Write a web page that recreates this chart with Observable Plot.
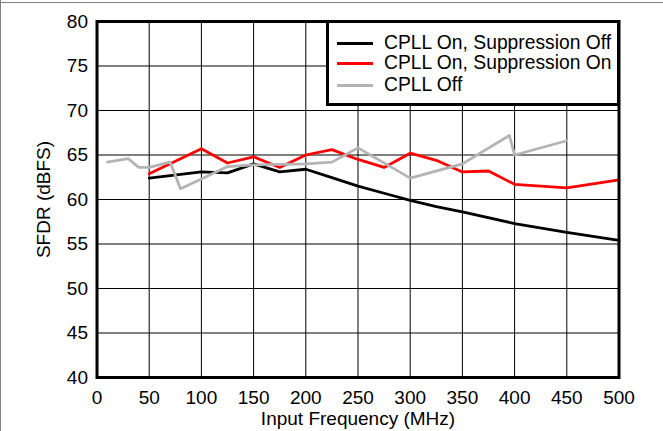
<!DOCTYPE html>
<html>
<head>
<meta charset="utf-8">
<script src="https://cdn.jsdelivr.net/npm/d3@7"></script>
<script src="https://cdn.jsdelivr.net/npm/@observablehq/plot@0.6"></script>
<style>
  html, body { margin: 0; padding: 0; background: white; }
  #wrap { position: relative; width: 663px; height: 431px; overflow: hidden; font-family: "Liberation Sans", Arial, Helvetica, sans-serif; }
  #bt { position: absolute; left: 0; top: 2px; width: 663px; height: 1px; background: #808080; }
  #bl { position: absolute; left: 0; top: 0; width: 1px; height: 431px; background: #808080; }
  #legend { position: absolute; left: 326px; top: 19.5px; width: 288px; height: 80px; border: 3px solid black; background: white; font-size: 19.3px; }
  .row { position: absolute; left: 8px; height: 21px; display: flex; align-items: center; white-space: nowrap; }
  .sw { width: 36px; height: 3px; margin-right: 11px; }
</style>
</head>
<body>
<div id="wrap">
  <div id="chart"></div>
  <div id="legend"></div>
  <div id="bt"></div>
  <div id="bl"></div>
</div>
<script>
// Series names and colours
const seriesNames = ["CPLL On, Suppression Off", "CPLL On, Suppression On", "CPLL Off"];
const seriesColors = ["#000000", "#ff0000", "#b4b4b4"];

// CPLL On, Suppression Off
const freqBlack = [50, 100, 125, 150, 175, 200, 225, 250, 275, 300, 325, 350, 400, 450, 500];
const sfdrBlack = [62.4, 63.1, 63.0, 64.0, 63.1, 63.4, 62.45, 61.5, 60.7, 59.9, 59.2, 58.6, 57.3, 56.3, 55.4];

// CPLL On, Suppression On
const freqRed = [50, 100, 125, 150, 175, 200, 225, 250, 275, 300, 325, 350, 375, 400, 450, 500];
const sfdrRed = [62.9, 65.7, 64.1, 64.8, 63.6, 65.0, 65.6, 64.5, 63.6, 65.2, 64.4, 63.1, 63.2, 61.7, 61.3, 62.2];

// CPLL Off
const freqGray = [10, 30, 40, 50, 70, 80, 100, 125, 150, 200, 225, 250, 300, 350, 395, 400, 450];
const sfdrGray = [64.2, 64.6, 63.6, 63.6, 64.2, 61.2, 62.3, 63.7, 63.9, 64.0, 64.2, 65.8, 62.4, 64.0, 67.2, 65.0, 66.6];

// Tick values
const xTicks = [0, 50, 100, 150, 200, 250, 300, 350, 400, 450, 500];
const yTicks = [40, 45, 50, 55, 60, 65, 70, 75, 80];

const toRows = (xs, ys) => xs.map((x, i) => ({x, y: ys[i]}));
const dBlack = toRows(freqBlack, sfdrBlack);
const dRed = toRows(freqRed, sfdrRed);
const dGray = toRows(freqGray, sfdrGray);

const chart = Plot.plot({
  width: 663,
  height: 431,
  marginLeft: 96.5,
  marginRight: 44.5,
  marginTop: 21,
  marginBottom: 54,
  style: { fontFamily: '"Liberation Sans", Arial, Helvetica, sans-serif', fontSize: "19px", background: "white", color: "black" },
  x: { domain: [0, 500] },
  y: { domain: [40, 80] },
  marks: [
    Plot.gridX(xTicks, { stroke: "black", strokeOpacity: 1, strokeWidth: 1 }),
    Plot.gridY(yTicks, { stroke: "black", strokeOpacity: 1, strokeWidth: 1 }),
    Plot.axisX(xTicks, { tickSize: 0, tickPadding: 13, label: "Input Frequency (MHz)", labelAnchor: "center", labelOffset: 47, labelArrow: "none" }),
    Plot.axisY(yTicks, { tickSize: 0, tickPadding: 9, label: "SFDR (dBFS)", labelAnchor: "center", labelOffset: 61, labelArrow: "none" }),
    Plot.line(dBlack, { x: "x", y: "y", stroke: seriesColors[0], strokeWidth: 2.8 }),
    Plot.line(dRed, { x: "x", y: "y", stroke: seriesColors[1], strokeWidth: 2.8 }),
    Plot.line(dGray, { x: "x", y: "y", stroke: seriesColors[2], strokeWidth: 2.8 }),
    Plot.frame({ stroke: "black", strokeWidth: 3 })
  ]
});
document.getElementById("chart").appendChild(chart);

// Legend
const legend = document.getElementById("legend");
const rowTops = [10, 30, 52];
seriesNames.forEach((name, i) => {
  const row = document.createElement("div");
  row.className = "row";
  row.style.top = rowTops[i] + "px";
  const sw = document.createElement("div");
  sw.className = "sw";
  sw.style.background = seriesColors[i];
  const t = document.createElement("span");
  t.textContent = name;
  row.appendChild(sw);
  row.appendChild(t);
  legend.appendChild(row);
});
</script>
</body>
</html>
